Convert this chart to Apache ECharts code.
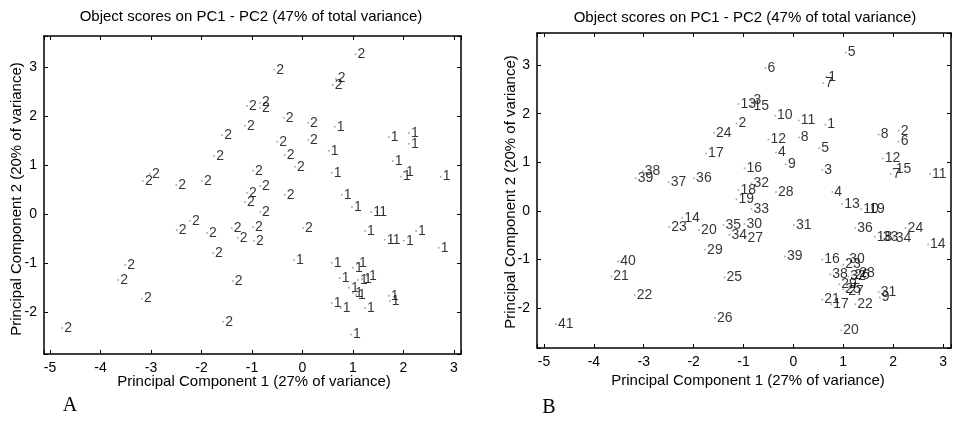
<!DOCTYPE html>
<html>
<head>
<meta charset="utf-8">
<script src="https://cdn.jsdelivr.net/npm/echarts@6/dist/echarts.min.js"></script>
<style>
html,body{margin:0;padding:0;background:#fff;}
#main{width:954px;height:422px;}
</style>
</head>
<body>
<div id="main"></div>
<script>
// group 1 = right cloud ("1" in panel A), labels are the object numbers of panel B
var group1Labels = [1, 5, 8, 2, 6, 12, 7, 15, 11, 3, 4, 13, 10, 19, 36, 18, 33, 34, 24, 14,
	39, 16, 30, 23, 28, 38, 32, 26, 29, 25, 27, 21, 17, 22, 31, 9, 20];
var group1X = [0.64, 0.52, 1.71, 2.11, 2.11, 1.79, 1.95, 2.01, 2.74, 0.58, 0.78, 0.98, 1.36, 1.48, 1.24, 1.63, 1.75, 2.01, 2.25, 2.70,
	-0.17, 0.58, 1.08, 1.00, 1.28, 0.74, 1.10, 1.18, 0.92, 1.00, 1.06, 0.58, 0.76, 1.24, 1.71, 1.73, 0.96];
var group1Y = [1.78, 1.29, 1.57, 1.65, 1.43, 1.08, 0.76, 0.86, 0.76, 0.84, 0.39, 0.14, 0.04, 0.04, -0.35, -0.53, -0.53, -0.55, -0.35, -0.69,
	-0.94, -1.00, -1.00, -1.10, -1.27, -1.31, -1.35, -1.33, -1.51, -1.61, -1.65, -1.82, -1.92, -1.92, -1.67, -1.78, -2.46];

// group 2 = left cloud ("2" in panel A), object numbers 1..41
var group2Labels = [1, 2, 3, 4, 5, 6, 7, 8, 9, 10, 11, 12, 13, 14, 15, 16, 17, 18, 19, 20,
	21, 22, 23, 24, 25, 26, 27, 28, 29, 30, 31, 32, 33, 34, 35, 36, 37, 38, 39, 40, 41];
var group2X = [0.66, -1.14, -0.84, -0.35, 1.05, -0.56, 0.60, 0.11, -0.15, -0.37, 0.11, -0.50, -1.10, -2.23, -0.84, -0.98, -1.75, -1.10, -1.14, -1.89,
	-3.65, -3.18, -2.49, -1.59, -1.38, -1.57, -0.96, -0.35, -1.77, -0.98, 0.01, -0.84, -0.84, -1.28, -1.40, -1.99, -2.50, -3.02, -3.16, -3.51, -4.76];
var group2Y = [2.76, 1.80, 2.27, 1.20, 3.26, 2.94, 2.63, 1.51, 0.96, 1.96, 1.86, 1.47, 2.20, -0.14, 2.16, 0.88, 1.18, 0.43, 0.24, -0.39,
	-1.35, -1.73, -0.33, 1.61, -1.37, -2.20, -0.55, 0.39, -0.80, -0.27, -0.29, 0.57, 0.04, -0.49, -0.29, 0.67, 0.59, 0.82, 0.67, -1.04, -2.33];

var titleText = 'Object scores on PC1 - PC2 (47% of total variance)';
var xName = 'Principal Component 1 (27% of variance)';
var yName = 'Principal Component 2 (20% of variance)';
var panelNames = ['A', 'B'];

var font = "'Liberation Sans', Arial, sans-serif";

function buildData(xs, ys, labels){
	var arr = [];
	for(var i=0; i<xs.length; i++){
		arr.push([xs[i], ys[i], labels[i]]);
	}
	return arr;
}

// integer labels only (hide the extent labels at min/max)
function intLabel(v){
	if(Math.abs(v - Math.round(v)) < 1e-6){
		return String(Math.round(v));
	}
	return '';
}

function makeAxis(gridIndex, pos, min, max, split, showLabel){
	return {
		type: 'value',
		gridIndex: gridIndex,
		position: pos,
		min: min,
		max: max,
		splitNumber: split,
		minInterval: 1,
		maxInterval: 1,
		axisLine: {show: true, onZero: false, lineStyle: {color: '#000', width: 1.5}},
		axisTick: {show: true, inside: true, length: 4, lineStyle: {color: '#000'}},
		axisLabel: {show: showLabel, color: '#000', fontSize: 14, fontFamily: font, margin: 7, formatter: intLabel},
		splitLine: {show: false}
	};
}

function makeSeries(gridIndex, data, fmt){
	return {
		type: 'scatter',
		xAxisIndex: gridIndex * 2,
		yAxisIndex: gridIndex * 2,
		data: data,
		symbolSize: 2,
		silent: true,
		itemStyle: {color: '#999'},
		label: {
			show: true,
			position: 'right',
			distance: 1,
			color: '#000',
			fontSize: 14,
			fontFamily: font,
			formatter: fmt
		}
	};
}

var chart = echarts.init(document.getElementById('main'));

var g1 = buildData(group1X, group1Y, group1Labels);
var g2 = buildData(group2X, group2Y, group2Labels);

var textStyle = function(t, size){
	return {text: t, font: size + 'px ' + font, fill: '#000', textAlign: 'center', textVerticalAlign: 'middle'};
};

var option = {
	animation: false,
	backgroundColor: '#fff',
	grid: [
		{left: 44, top: 36, width: 417, height: 318},
		{left: 537, top: 33, width: 416, height: 315}
	],
	xAxis: [
		makeAxis(0, 'bottom', -5.12, 3.14, 8, true),
		makeAxis(0, 'top', -5.12, 3.14, 8, false),
		makeAxis(1, 'bottom', -5.14, 3.16, 8, true),
		makeAxis(1, 'top', -5.14, 3.16, 8, false)
	],
	yAxis: [
		makeAxis(0, 'left', -2.86, 3.63, 6, true),
		makeAxis(0, 'right', -2.86, 3.63, 6, false),
		makeAxis(1, 'left', -2.82, 3.66, 6, true),
		makeAxis(1, 'right', -2.82, 3.66, 6, false)
	],
	series: [
		makeSeries(0, g1, '1'),
		makeSeries(0, g2, '2'),
		makeSeries(1, g1, function(p){ return p.value[2]; }),
		makeSeries(1, g2, function(p){ return p.value[2]; })
	],
	graphic: [
		{type: 'text', x: 251, y: 17, style: textStyle(titleText, 15)},
		{type: 'text', x: 745, y: 18, style: textStyle(titleText, 15)},
		{type: 'text', x: 254, y: 382, style: textStyle(xName, 15)},
		{type: 'text', x: 748, y: 381, style: textStyle(xName, 15)},
		{type: 'text', x: 17, y: 199, rotation: Math.PI / 2, style: textStyle(yName, 15)},
		{type: 'text', x: 511, y: 192, rotation: Math.PI / 2, style: textStyle(yName, 15)},
		{type: 'text', x: 70, y: 406, style: {text: panelNames[0], font: "20px 'Liberation Serif', 'Times New Roman', serif", fill: '#000', textAlign: 'center', textVerticalAlign: 'middle'}},
		{type: 'text', x: 549, y: 408, style: {text: panelNames[1], font: "20px 'Liberation Serif', 'Times New Roman', serif", fill: '#000', textAlign: 'center', textVerticalAlign: 'middle'}}
	]
};

chart.setOption(option);
</script>
</body>
</html>
